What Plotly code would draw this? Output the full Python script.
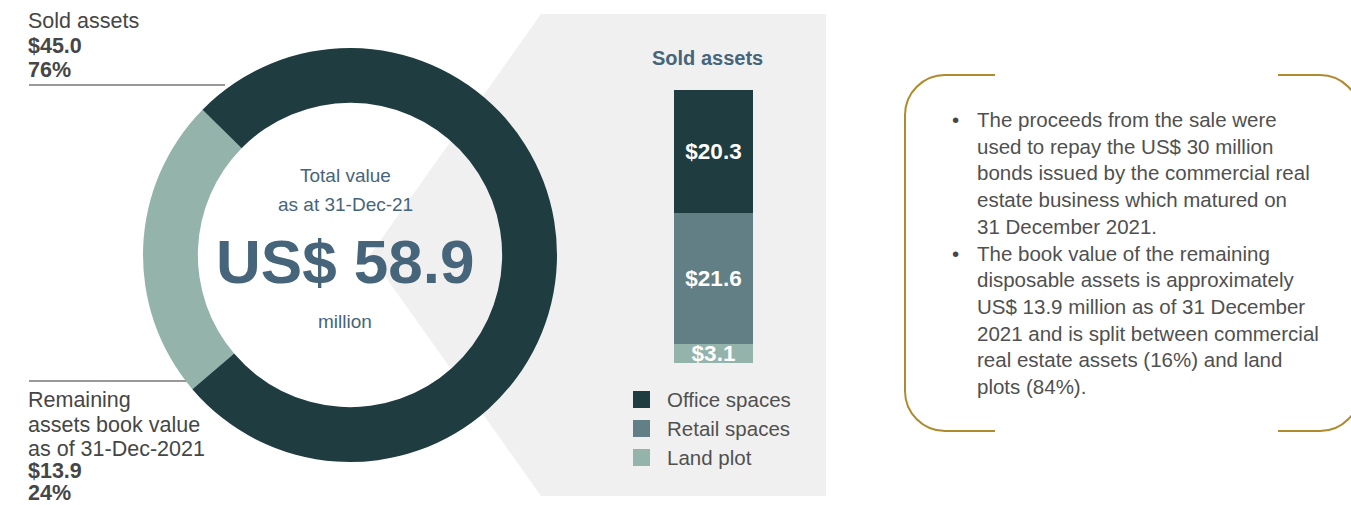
import plotly.graph_objects as go

W, H = 1351, 505

# ---------------- data ----------------
donut_labels = ["Remaining assets book value", "Sold assets"]
donut_values = [13.9, 45.0]
donut_pcts = ["24%", "76%"]

bar_categories = ["Office spaces", "Retail spaces", "Land plot"]
bar_values = [20.3, 21.6, 3.1]

center_lines = ["Total value", "as at 31-Dec-21", "US$ 58.9", "million"]

sold_label_lines = ["Sold assets", "$45.0", "76%"]
remaining_label_lines = ["Remaining", "assets book value", "as of 31-Dec-2021", "$13.9", "24%"]

bullet1_lines = [
    "The proceeds from the sale were",
    "used to repay the US$ 30 million",
    "bonds issued by the commercial real",
    "estate business which matured on",
    "31 December 2021.",
]
bullet2_lines = [
    "The book value of the remaining",
    "disposable assets is approximately",
    "US$ 13.9 million as of 31 December",
    "2021 and is split between commercial",
    "real estate assets (16%) and land",
    "plots (84%).",
]

# ---------------- styles ----------------
DARK = "#1f3c40"
MID = "#627f85"
LIGHT = "#94b3aa"
SLATE = "#46657a"
TXT = "#464646"
TXT_LIGHT = "#505050"
GOLD = "#b08a2e"
BG = "#f0f0f0"
bar_colors = {"Office spaces": DARK, "Retail spaces": MID, "Land plot": LIGHT}
SANS = "Liberation Sans, Arial, sans-serif"

fig = go.Figure()

# donut
cx, cy, R = 350, 255, 207
fig.add_trace(go.Pie(
    labels=donut_labels, values=donut_values, hole=0.735, sort=False,
    direction="clockwise", rotation=-130.4,
    marker=dict(colors=[LIGHT, DARK], line=dict(width=0)),
    textinfo="none", showlegend=False,
    domain=dict(x=[(cx - R) / W, (cx + R) / W], y=[(H - cy - R) / H, (H - cy + R) / H]),
))

# stacked bar (bottom to top: land, retail, office)
for cat, val in reversed(list(zip(bar_categories, bar_values))):
    fig.add_trace(go.Bar(
        x=[0], y=[val], width=1, name=cat, marker=dict(color=bar_colors[cat], line=dict(width=0)),
        text=[f"<b>${val:.1f}</b>"], textposition="inside", insidetextanchor="middle",
        constraintext="none", textfont=dict(color="white", size=22.5, family=SANS),
        xaxis="x2", yaxis="y2", showlegend=False,
    ))

# pixel canvas axes
fig.update_layout(
    width=W, height=H, margin=dict(l=0, r=0, t=0, b=0),
    paper_bgcolor="white", plot_bgcolor="rgba(0,0,0,0)", barmode="stack",
    xaxis=dict(range=[0, W], domain=[0, 1], visible=False, fixedrange=True),
    yaxis=dict(range=[H, 0], domain=[0, 1], visible=False, fixedrange=True),
    xaxis2=dict(range=[-0.5, 0.5], domain=[674 / W, 753 / W], visible=False, anchor="y2"),
    yaxis2=dict(range=[0, sum(bar_values)], domain=[(H - 363) / H, (H - 90) / H], visible=False, anchor="x2"),
)

shapes = []
# grey backdrop polygon
shapes.append(dict(type="path", xref="x", yref="y", layer="below",
                   path="M 541,14 L 826,14 L 826,496 L 541,496 L 370,255 Z",
                   fillcolor=BG, line=dict(width=0)))
# leader lines
shapes.append(dict(type="line", xref="x", yref="y", layer="below", x0=29, x1=225, y0=85, y1=85,
                   line=dict(color="#333333", width=1)))
shapes.append(dict(type="line", xref="x", yref="y", layer="below", x0=29, x1=200, y0=381, y1=381,
                   line=dict(color="#333333", width=1)))
# brackets
k = 22
left = (f"M 995,75 L 945,75 C {945-k},75 905,{115-k} 905,115 L 905,391 "
        f"C 905,{391+k} {945-k},431 945,431 L 995,431")
right = (f"M 1278,75 L 1320,75 C {1320+k},75 1360,{115-k} 1360,115 L 1360,391 "
         f"C 1360,{391+k} {1320+k},431 1320,431 L 1278,431")
for p in (left, right):
    shapes.append(dict(type="path", xref="x", yref="y", path=p, line=dict(color=GOLD, width=2)))
# legend squares
leg_y = [399.5, 428.5, 457.5]
for cat, yy in zip(bar_categories, leg_y):
    shapes.append(dict(type="rect", xref="x", yref="y", x0=633, x1=650, y0=yy - 8.5, y1=yy + 8.5,
                       fillcolor=bar_colors[cat], line=dict(width=0)))
fig.update_layout(shapes=shapes)

ann = []
def text(x, y, s, size=20, color=TXT, xanchor="left", bold=False):
    ann.append(dict(x=x, y=y, xref="x", yref="y", text=(f"<b>{s}</b>" if bold else s), showarrow=False,
                    xanchor=xanchor, yanchor="middle", font=dict(size=size, color=color, family=SANS)))

# left labels
for s, yy, b in zip(sold_label_lines, [20.5, 45.5, 69.5], [False, True, True]):
    text(26, yy, s, size=21.5, bold=b)
for s, yy, b in zip(remaining_label_lines, [399.5, 424.5, 448.5, 470.5, 492.5], [False, False, False, True, True]):
    text(26, yy, s, size=21.5, bold=b)

# centre text
text(345, 175.5, center_lines[0], size=19, color=SLATE, xanchor="center")
text(345, 204.5, center_lines[1], size=19, color=SLATE, xanchor="center")
text(345, 261.5, center_lines[2], size=62, color=SLATE, xanchor="center", bold=True)
text(345, 321, center_lines[3], size=19, color=SLATE, xanchor="center")

# bar title
text(707, 58, "Sold assets", size=20, color=SLATE, xanchor="center", bold=True)

# legend text
for cat, yy in zip(bar_categories, leg_y):
    text(665, yy, cat, size=20.5, color=TXT_LIGHT)

# bullets
y0, dy = 119.5, 26.7
lines = bullet1_lines + bullet2_lines
for i, s in enumerate(lines):
    text(975, y0 + i * dy, s, size=20.5, color=TXT_LIGHT)
text(955, y0, "•", size=20.5, xanchor="center")
text(955, y0 + len(bullet1_lines) * dy, "•", size=20.5, xanchor="center")

fig.update_layout(annotations=ann)
fig.write_html("out.html", config={"displayModeBar": False},
               post_script="document.body.style.margin='0px';document.body.style.overflow='hidden';")
